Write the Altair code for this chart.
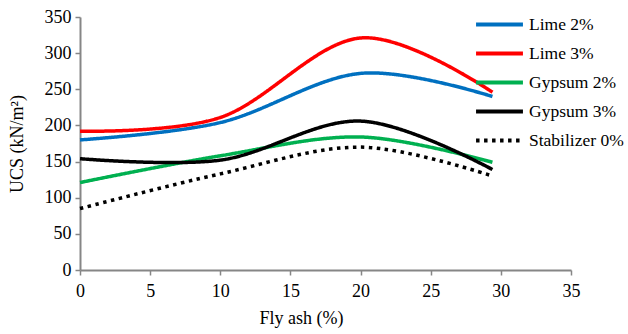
import altair as alt
import pandas as pd

fly_ash = [0, 10, 20, 29.4]
lime2 = [180, 204, 272, 240]
lime3 = [192, 211, 321, 246]
gyp2 = [121, 158, 184, 149]
gyp3 = [154, 152, 206, 139]
stab0 = [85, 133, 170, 130]

series_names = ["Lime 2%", "Lime 3%", "Gypsum 2%", "Gypsum 3%", "Stabilizer 0%"]
series_vals = [lime2, lime3, gyp2, gyp3, stab0]
colors = ["#0070C0", "#FF0000", "#00B050", "#000000", "#000000"]
dashes = [[1, 0], [1, 0], [1, 0], [1, 0], [3.5, 4.5]]

rows = []
for name, vals in zip(series_names, series_vals):
    for x, y in zip(fly_ash, vals):
        rows.append({"x": x, "y": y, "series": name})
df = pd.DataFrame(rows)

FONT = "Liberation Serif"

leg = alt.Legend(title=None, orient="none", legendX=394, legendY=-7,
                 symbolType="stroke", symbolSize=2200,
                 symbolStrokeWidth=4, labelFontSize=17.5,
                 labelFont=FONT, labelColor="#000000",
                 rowPadding=0, clipHeight=29, labelOffset=4)

chart = alt.Chart(df).mark_line(
    interpolate="cardinal", strokeWidth=3.5
).encode(
    x=alt.X("x:Q", title="Fly ash (%)",
            scale=alt.Scale(domain=[0, 35], nice=False),
            axis=alt.Axis(values=[0, 5, 10, 15, 20, 25, 30, 35], grid=False,
                          labelFlush=False,
                          titleX=221, titleY=39, titleAlign="center")),
    y=alt.Y("y:Q", title="UCS (kN/m²)",
            scale=alt.Scale(domain=[0, 350], nice=False),
            axis=alt.Axis(values=[0, 50, 100, 150, 200, 250, 300, 350], grid=False,
                          labelFlush=False, titleX=-54)),
    color=alt.Color("series:N", sort=series_names,
                    scale=alt.Scale(domain=series_names, range=colors),
                    legend=leg),
    strokeDash=alt.StrokeDash("series:N", sort=series_names,
                              scale=alt.Scale(domain=series_names, range=dashes),
                              legend=leg),
).properties(
    width=491, height=253,
    padding={"left": 80, "top": 17, "right": 57, "bottom": 64},
    autosize=alt.AutoSizeParams(type="none"),
).configure(font=FONT).configure_view(stroke=None).configure_axis(
    domainColor="#868686", tickColor="#868686", domainWidth=2, tickWidth=1.5,
    tickSize=5, labelFont=FONT, labelFontSize=18, labelColor="#000000",
    titleFont=FONT, titleFontSize=18, titleColor="#000000", titleFontWeight="normal",
).configure_axisX(labelPadding=7).configure_axisY(labelPadding=4)

chart.save("out.html", embed_options={"renderer": "svg", "actions": False})
